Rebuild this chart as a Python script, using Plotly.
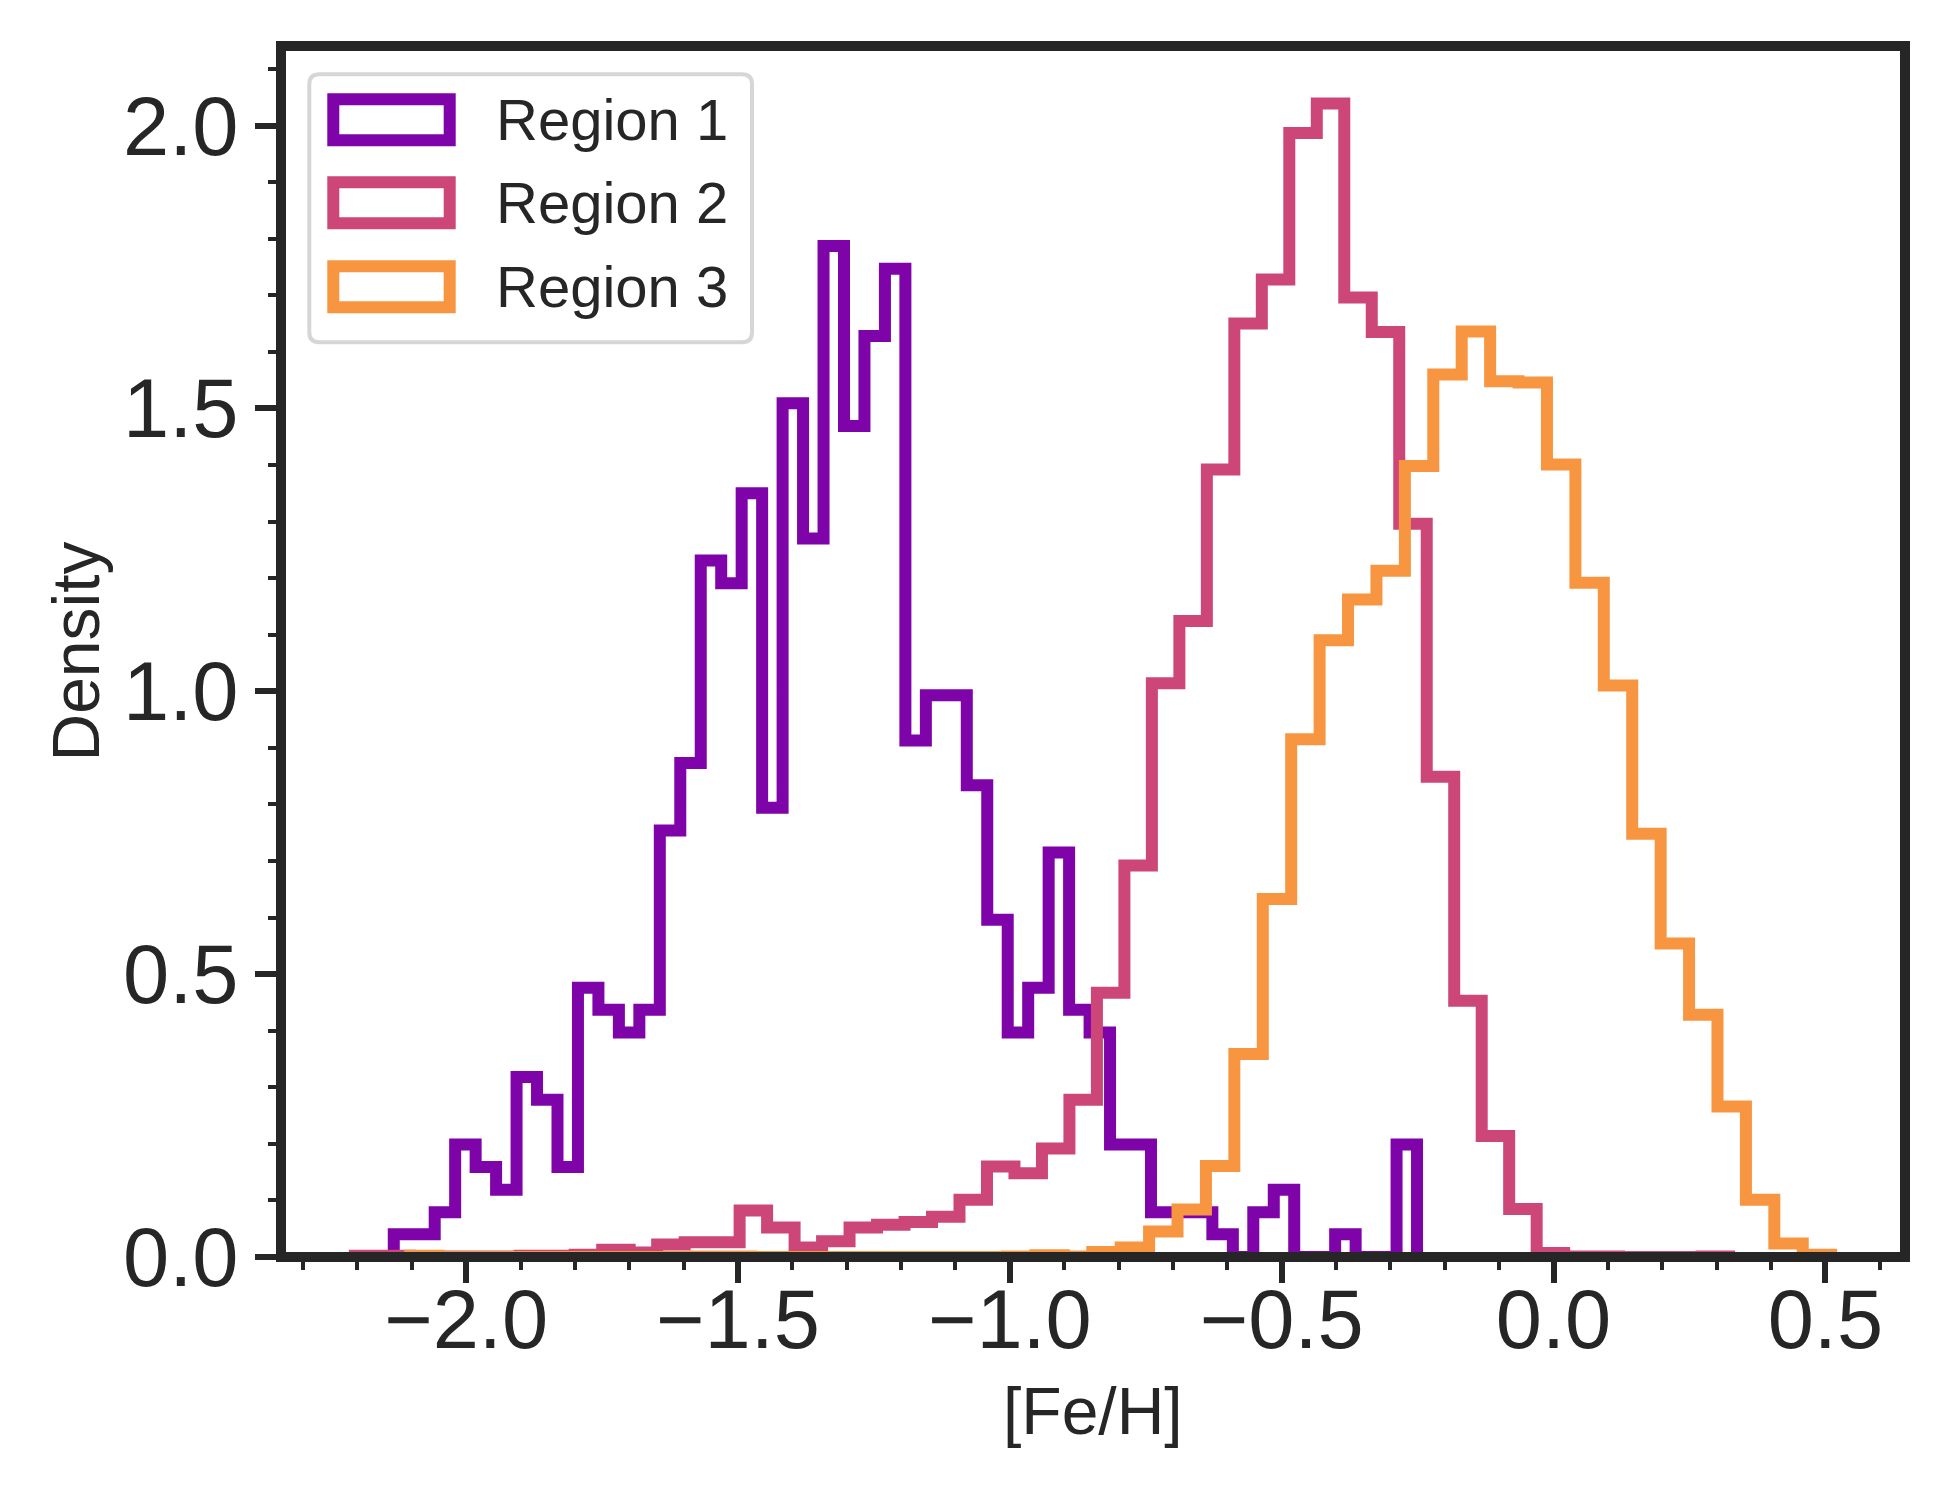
import numpy as np
import plotly.graph_objects as go

# histogram densities (50 bins each, equal width)
region1_range = (-2.1331, -0.2511)
region1_density = [
    0.040, 0.040, 0.079, 0.199, 0.159, 0.119, 0.318, 0.278, 0.159, 0.476,
    0.437, 0.397, 0.437, 0.754, 0.873, 1.231, 1.191, 1.350, 0.794, 1.509,
    1.270, 1.787, 1.469, 1.628, 1.747, 0.913, 0.993, 0.993, 0.834, 0.596,
    0.397, 0.476, 0.715, 0.437, 0.397, 0.199, 0.199, 0.079, 0.079, 0.079,
    0.040, 0.000, 0.079, 0.119, 0.000, 0.000, 0.040, 0.000, 0.000, 0.199,
]

region2_range = (-2.2047, 0.3228)
region2_density = [
    0.002, 0.002, 0.001, 0.001, 0.001, 0.001, 0.002, 0.002, 0.004, 0.013,
    0.008, 0.022, 0.026, 0.026, 0.082, 0.052, 0.017, 0.028, 0.052, 0.057,
    0.062, 0.071, 0.101, 0.160, 0.148, 0.192, 0.278, 0.467, 0.692, 1.014,
    1.124, 1.392, 1.650, 1.728, 1.987, 2.039, 1.696, 1.635, 1.296, 0.849,
    0.453, 0.214, 0.085, 0.007, 0.001, 0.001, 0.000, 0.000, 0.000, 0.001,
]

region3_range = (-2.1029, 0.5106)
region3_density = [
    0.002, 0.000, 0.000, 0.000, 0.000, 0.000, 0.000, 0.000, 0.000, 0.000,
    0.001, 0.001, 0.000, 0.000, 0.000, 0.000, 0.000, 0.000, 0.000, 0.000,
    0.000, 0.001, 0.003, 0.001, 0.009, 0.017, 0.045, 0.084, 0.161, 0.359,
    0.633, 0.915, 1.090, 1.162, 1.213, 1.398, 1.560, 1.636, 1.548, 1.546,
    1.401, 1.192, 1.010, 0.748, 0.554, 0.428, 0.266, 0.101, 0.024, 0.004,
]

labels = ["Region 1", "Region 2", "Region 3"]

x_tickvals = [-2.0, -1.5, -1.0, -0.5, 0.0, 0.5]
x_ticktext = ["\u22122.0", "\u22121.5", "\u22121.0", "\u22120.5", "0.0", "0.5"]
y_tickvals = [0.0, 0.5, 1.0, 1.5, 2.0]
y_ticktext = ["0.0", "0.5", "1.0", "1.5", "2.0"]

COLORS = ["#7e03a8", "#cc4778", "#f89540"]
INK = "#262626"
FONT = "Liberation Sans, Arial, sans-serif"


def step_outline(lo, hi, dens):
    edges = np.linspace(lo, hi, len(dens) + 1)
    xs = np.concatenate([[edges[0]], edges])
    ys = np.concatenate([[0.0], dens, [0.0]])
    return xs, ys


fig = go.Figure()

series = [
    (region1_range, region1_density),
    (region2_range, region2_density),
    (region3_range, region3_density),
]
for ((lo, hi), dens), color, name in zip(series, COLORS, labels):
    xs, ys = step_outline(lo, hi, dens)
    fig.add_trace(
        go.Scatter(
            x=xs,
            y=ys,
            mode="lines",
            line=dict(color=color, width=12, shape="hv"),
            name=name,
            showlegend=False,
            hoverinfo="skip",
        )
    )

# frame (matplotlib-style spines)
fig.add_shape(
    type="rect", xref="paper", yref="paper", x0=0, x1=1, y0=0, y1=1,
    line=dict(color=INK, width=10), layer="above",
)

# hand-drawn legend box with rounded corners, pixel offsets from top-left
x0, x1, y0, y1, r = 28.3, 471.0, -296.3, -28.3, 10
legend_path = (
    f"M {x0 + r},{y1} L {x1 - r},{y1} Q {x1},{y1} {x1},{y1 - r} "
    f"L {x1},{y0 + r} Q {x1},{y0} {x1 - r},{y0} L {x0 + r},{y0} "
    f"Q {x0},{y0} {x0},{y0 + r} L {x0},{y1 - r} Q {x0},{y1} {x0 + r},{y1} Z"
)
fig.add_shape(
    type="path", xref="paper", yref="paper",
    xsizemode="pixel", ysizemode="pixel", xanchor=0, yanchor=1,
    path=legend_path, fillcolor="rgba(255,255,255,0.8)",
    line=dict(color="#d6d6d6", width=4), layer="above",
)

row_centers = [73.8, 156.8, 240.8]
for color, name, yc in zip(COLORS, labels, row_centers):
    fig.add_shape(
        type="rect", xref="paper", yref="paper",
        xsizemode="pixel", ysizemode="pixel", xanchor=0, yanchor=1,
        x0=52.3, x1=168.7, y0=-yc - 20.5, y1=-yc + 20.5,
        line=dict(color=color, width=12), layer="above",
    )
    fig.add_annotation(
        text=name, xref="paper", yref="paper", x=0, y=1,
        xanchor="left", yanchor="middle", xshift=213, yshift=-yc,
        showarrow=False, font=dict(family=FONT, size=58, color=INK),
    )

# axis titles
fig.add_annotation(
    text="[Fe/H]", xref="paper", yref="paper", x=0.5, y=0,
    xanchor="center", yanchor="middle", yshift=-154,
    showarrow=False, font=dict(family=FONT, size=66, color=INK),
)
fig.add_annotation(
    text="Density", xref="paper", yref="paper", x=0, y=0.5,
    xanchor="center", yanchor="middle", xshift=-206, textangle=-90,
    showarrow=False, font=dict(family=FONT, size=66, color=INK),
)

minor = dict(ticks="outside", ticklen=12, tickwidth=4, tickcolor=INK, dtick=0.1, tick0=0)

fig.update_xaxes(
    range=[-2.3405, 0.6464],
    tickvals=x_tickvals, ticktext=x_ticktext,
    ticks="outside", ticklen=25, tickwidth=6, tickcolor=INK,
    ticklabelstandoff=-35,
    minor=minor,
    showgrid=False, zeroline=False, showline=False,
    tickfont=dict(family=FONT, size=83, color=INK),
)
fig.update_yaxes(
    range=[0, 2.1406],
    tickvals=y_tickvals, ticktext=y_ticktext,
    ticks="outside", ticklen=25, tickwidth=6, tickcolor=INK,
    minor=minor,
    showgrid=False, zeroline=False, showline=False,
    tickfont=dict(family=FONT, size=83, color=INK),
)

# page body has an 8px margin, so the figure is 8px smaller than the window
fig.update_layout(
    width=1942,
    height=1492,
    margin=dict(l=273, r=45, t=38, b=243),
    paper_bgcolor="white",
    plot_bgcolor="white",
    showlegend=False,
)

fig.write_html("out.html")
